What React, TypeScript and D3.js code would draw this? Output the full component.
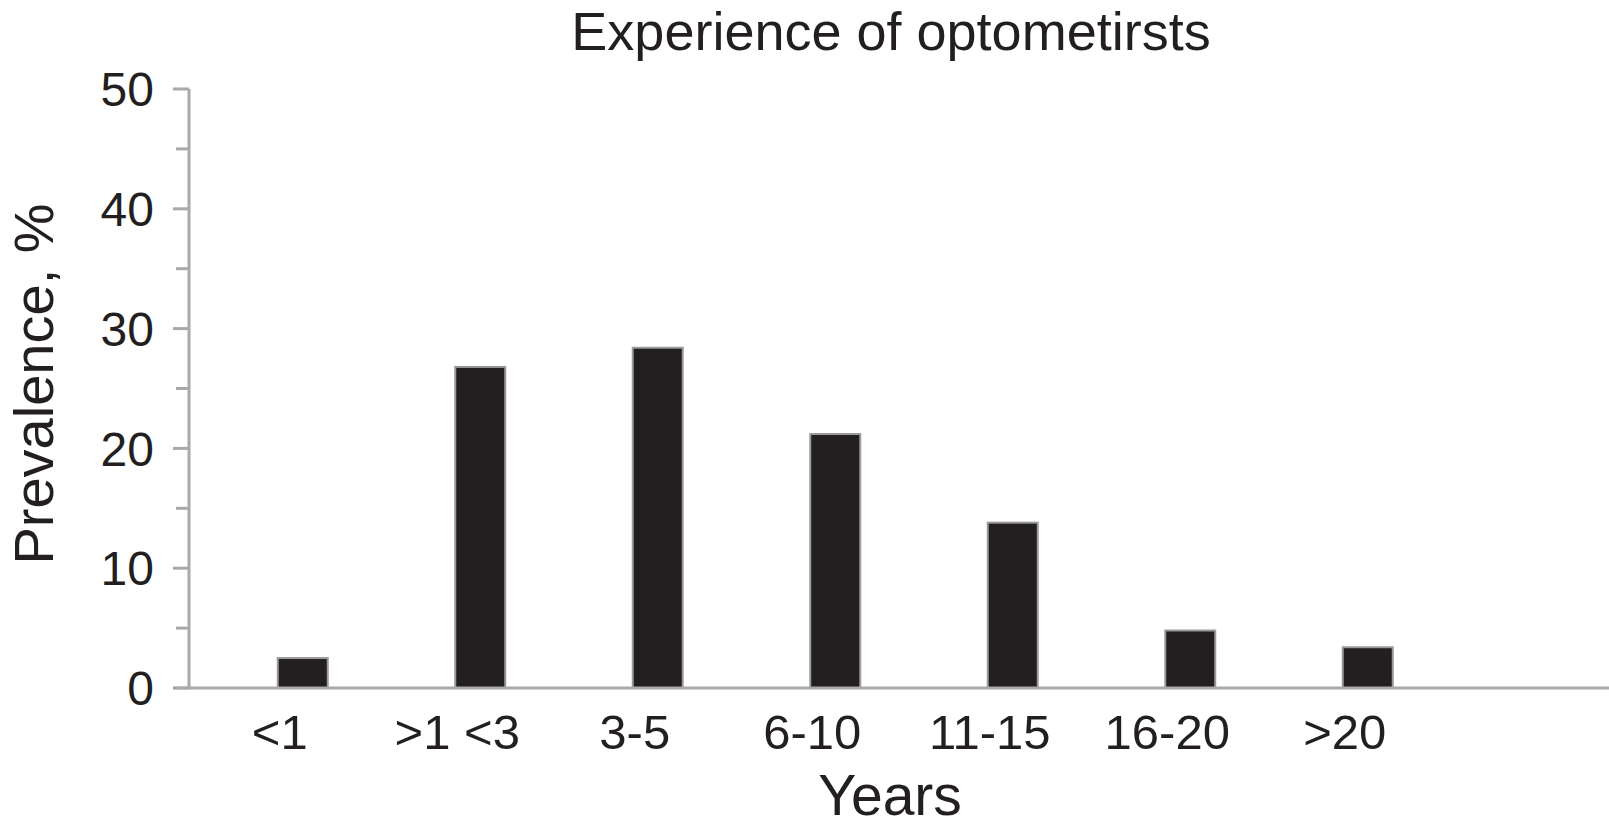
import React from "react";
import * as d3 from "d3";

const categories = ["<1", ">1 <3", "3-5", "6-10", "11-15", "16-20", ">20"];
const values = [2.5, 26.8, 28.4, 21.2, 13.8, 4.8, 3.4];
const yTicks = [0, 10, 20, 30, 40, 50];
const yMinorTicks = [5, 15, 25, 35, 45];
const title = "Experience of optometirsts";
const xTitle = "Years";
const yTitle = "Prevalence, %";

const W = 1609;
const H = 829;
const axisX = 189;
const y0 = 688;
const y1 = 89;
const step = 177.5;
const barW = 50;
const barOffset = 23;
const FONT = "'Liberation Sans', Arial, Helvetica, sans-serif";
const TEXT = "#231f20";
const AXIS = "#a9a9ab";

export default function App() {
  const x = d3
    .scaleBand<string>()
    .domain(categories)
    .range([axisX + 2, axisX + 2 + step * categories.length])
    .padding(0);
  const y = d3.scaleLinear().domain([0, 50]).range([y0, y1]);

  return (
    <svg
      width={W}
      height={H}
      style={{ position: "absolute", left: 0, top: 0, background: "#fff" }}
      fontFamily={FONT}
    >
      <rect x={0} y={0} width={W} height={H} fill="#fff" />
      <text x={891} y={50} textAnchor="middle" fontSize={54} fill={TEXT}>
        {title}
      </text>

      {/* bars */}
      {categories.map((c, i) => {
        const cx = (x(c) as number) + x.bandwidth() / 2 + barOffset;
        return (
          <rect
            key={c}
            x={cx - barW / 2}
            y={y(values[i])}
            width={barW}
            height={y0 - y(values[i])}
            fill={TEXT}
            stroke="#9a9a9c"
            strokeWidth={2}
          />
        );
      })}

      {/* y axis */}
      <line x1={axisX} x2={axisX} y1={y(50)} y2={y0} stroke={AXIS} strokeWidth={3} />
      {yTicks.map((t) => (
        <g key={t}>
          <line x1={axisX - 16} x2={axisX} y1={y(t)} y2={y(t)} stroke={AXIS} strokeWidth={3} />
          <text
            x={154}
            y={y(t)}
            dy="0.36em"
            textAnchor="end"
            fontSize={48}
            fill={TEXT}
          >
            {t}
          </text>
        </g>
      ))}
      {yMinorTicks.map((t) => (
        <line key={t} x1={axisX - 13} x2={axisX} y1={y(t)} y2={y(t)} stroke={AXIS} strokeWidth={3} />
      ))}

      {/* x axis */}
      <line x1={axisX - 16} x2={W} y1={y0} y2={y0} stroke={AXIS} strokeWidth={3} />
      {categories.map((c) => (
        <text
          key={c}
          x={(x(c) as number) + x.bandwidth() / 2}
          y={749}
          textAnchor="middle"
          fontSize={49}
          fill={TEXT}
        >
          {c}
        </text>
      ))}

      <text x={890} y={815} textAnchor="middle" fontSize={57} fill={TEXT}>
        {xTitle}
      </text>
      <text
        transform={`translate(53, 384) rotate(-90)`}
        textAnchor="middle"
        fontSize={56}
        fill={TEXT}
      >
        {yTitle}
      </text>
    </svg>
  );
}
